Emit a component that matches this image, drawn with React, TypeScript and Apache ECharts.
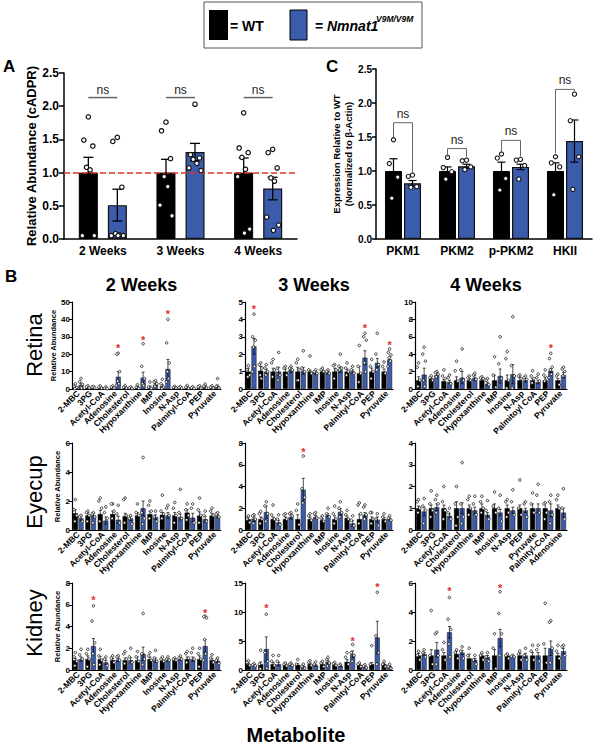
import React, { useEffect, useRef } from 'react';
import * as echarts from 'echarts';

const BLUE = '#3b5bab';
const RED = '#e0302a';
const FONT = 'Liberation Sans, Arial, sans-serif';

// ---------- Panel A ----------
const A_CATS = ['2 Weeks', '3 Weeks', '4 Weeks'];
const A_WT = [1.0, 1.0, 1.0];
const A_WT_SEM = [0.23, 0.2, 0.22];
const A_KO = [0.51, 1.31, 0.76];
const A_KO_SEM = [0.24, 0.13, 0.17];
const A_WT_PTS = [
  [1.84, 1.49, 1.4, 1.08, 1.04, 0.05, 0.05],
  [1.76, 1.63, 1.21, 0.94, 0.79, 0.51, 0.35],
  [1.9, 1.37, 1.3, 1.23, 1.05, 0.94, 0.15, 0.09],
];
const A_KO_PTS = [
  [1.53, 1.47, 0.78, 0.08, 0.06, 0.05, 0.05, 0.05],
  [2.03, 1.27, 1.22, 1.2, 1.14, 1.07, 1.03],
  [1.35, 1.3, 1.07, 0.92, 0.87, 0.33, 0.21, 0.13],
];
const A_NS = [2.13, 2.13, 2.13];
const A_REF = 1.0;

// ---------- Panel C ----------
const C_CATS = ['PKM1', 'PKM2', 'p-PKM2', 'HKII'];
const C_WT = [1.0, 1.0, 1.0, 1.0];
const C_WT_SEM = [0.18, 0.06, 0.13, 0.12];
const C_KO = [0.82, 1.07, 1.06, 1.44];
const C_KO_SEM = [0.04, 0.03, 0.04, 0.31];
const C_WT_PTS = [
  [1.46, 1.11, 0.91, 0.6],
  [1.2, 1.05, 0.99, 0.88],
  [1.25, 1.19, 0.89, 0.72],
  [1.21, 1.12, 1.06, 0.65],
];
const C_KO_PTS = [
  [0.94, 0.92, 0.77, 0.76],
  [1.16, 1.15, 1.06, 1.02],
  [1.17, 1.16, 1.08, 0.88],
  [2.13, 1.74, 1.21, 0.73],
];
const C_BR_TOP = [1.71, 1.33, 1.45, 2.2];
const C_BR_LEFT = [1.5, 1.21, 1.26, 1.26];
const C_BR_RIGHT = [0.97, 1.21, 1.21, 2.17];

// ---------- Panel B ----------
const CATS_STD = ['2-MBC', '3PG', 'Acetyl-CoA', 'Adenosine', 'Cholesterol', 'Hypoxanthine', 'IMP', 'Inosine', 'N-Asp', 'Palmityl-CoA', 'PEP', 'Pyruvate'];
const CATS_RET4 = ['2-MBC', '3PG', 'Acetyl-CoA', 'Adenosine', 'Cholesterol', 'Hypoxanthine', 'IMP', 'Inosine', 'N-Asp', 'Palmitoyl CoA', 'PEP', 'Pyruvate'];
const CATS_EYE4 = ['2-MBC', '3PG', 'Acetyl-CoA', 'Cholesterol', 'Hypoxanthine', 'IMP', 'Inosine', 'N-Asp', 'PEP', 'Pyruvate', 'Palmityl-CoA', 'Adenosine'];
const B_COLS = ['2 Weeks', '3 Weeks', '4 Weeks'];
const B_ROWS = ['Retina', 'Eyecup', 'Kidney'];
const B_YMAX = [50, 5, 10, 6, 8, 4, 8, 15, 6];
const B_YSTEP = [10, 1, 2, 2, 2, 1, 2, 5, 2];

// Retina 2 weeks
const RET2_WT = [1, 1, 1, 1, 1, 1, 1, 1.5, 1, 1, 1, 1];
const RET2_WT_SEM = [0.6, 0.2, 0.3, 0.3, 0.3, 0.4, 0.8, 1.0, 0.2, 0.3, 0.3, 0.3];
const RET2_KO = [2.3, 0.9, 0.6, 7.0, 0.6, 6.5, 2.5, 11.5, 0.8, 0.7, 1.3, 1.5];
const RET2_KO_SEM = [0.9, 0.15, 0.2, 3.0, 0.2, 3.2, 0.8, 5.5, 0.2, 0.2, 0.5, 0.8];
const RET2_WT_PTS = [[3.0, 1.5, 0.8, 0.2], [1.9, 1.2, 0.6], [1.8, 1.1, 0.5], [1.8, 1.2, 0.5], [2.0, 1.0, 0.5], [2.5, 1.0, 0.4], [4.0, 1.0, 0.3], [5.5, 3.0, 1.0, 0.3], [1.5, 1.0, 0.6], [2.0, 1.0, 0.4], [1.8, 1.2, 0.5], [1.8, 1.0, 0.5]];
const RET2_KO_PTS = [[6.0, 4.2, 2.8, 1.0, 0.5], [1.5, 1.0, 0.6], [1.2, 0.5, 0.2], [20.5, 20, 10, 4.5, 3, 2], [1.2, 0.6, 0.3], [26, 13, 6, 3, 2], [4.8, 4.0, 3.0, 1.5], [40, 26.5, 15, 10, 6, 4], [1.4, 0.8, 0.5], [1.3, 0.7, 0.3], [2.8, 1.6, 0.7], [6.0, 1.5, 0.6]];
const RET2_STARS = [[3, 24.5], [5, 29.5], [7, 44]];

// Retina 3 weeks
const RET3_WT = [1.0, 1.05, 1.0, 1.0, 1.0, 1.0, 1.0, 1.0, 1.0, 0.9, 1.0, 1.0];
const RET3_WT_SEM = [0.2, 0.25, 0.2, 0.15, 0.25, 0.1, 0.1, 0.2, 0.15, 0.4, 0.2, 0.15];
const RET3_KO = [2.45, 1.0, 1.0, 1.1, 1.05, 0.95, 0.95, 1.1, 1.0, 1.8, 1.5, 1.7];
const RET3_KO_SEM = [0.45, 0.15, 0.25, 0.15, 0.2, 0.1, 0.08, 0.15, 0.1, 0.4, 0.25, 0.12];
const RET3_WT_PTS = [[1.35, 1.1, 0.8, 0.7], [1.5, 1.4, 1.2, 0.8, 0.6], [1.7, 1.5, 1.1, 0.7], [1.3, 1.2, 0.8], [1.7, 1.5, 1.1, 0.5, 0.5], [1.9, 1.1, 0.9], [1.2, 1.1, 1.0], [1.4, 1.35, 1.1, 0.6], [1.5, 1.2, 1.0, 0.8], [2.5, 1.3, 0.9, 0.4], [1.7, 1.3, 1.0, 0.6], [1.55, 1.3, 0.9]];
const RET3_KO_PTS = [[4.3, 3.0, 2.8, 2.4, 1.3, 1.0], [1.4, 1.2, 1.0, 0.8], [2.1, 1.2, 0.8, 0.5], [1.3, 1.2, 1.1], [2.2, 1.2, 1.0], [1.1, 1.0, 0.9], [1.1, 1.0, 0.9], [2.0, 1.3, 1.2, 1.1], [1.3, 1.1, 0.9], [3.2, 3.0, 2.8, 1.5, 1.0], [3.2, 2.0, 1.4, 1.1], [2.3, 2.1, 1.95, 1.8, 1.6, 1.3]];
const RET3_STARS = [[0, 4.7], [9, 3.6], [11, 2.65]];

// Retina 4 weeks
const RET4_WT = [1.0, 1.2, 0.9, 1.0, 1.0, 1.0, 1.0, 1.0, 1.0, 1.0, 1.0, 1.0];
const RET4_WT_SEM = [0.4, 0.2, 0.2, 0.4, 0.2, 0.15, 0.6, 0.6, 0.3, 0.2, 0.3, 0.2];
const RET4_KO = [1.65, 1.6, 0.8, 1.3, 1.3, 0.6, 1.5, 1.7, 1.0, 0.8, 2.1, 1.6];
const RET4_KO_SEM = [0.75, 0.3, 0.2, 0.7, 0.3, 0.2, 0.8, 1.1, 0.2, 0.2, 0.2, 0.3];
const RET4_WT_PTS = [[3.0, 2.5, 1.0, 0.3], [1.5, 1.3, 1.0], [2.2, 1.5, 1.2], [3.2, 2.1, 0.9], [1.5, 1.3, 1.0], [1.4, 1.3, 1.2], [3.7, 1.6, 0.2], [4.3, 3.5, 1.0, 0.1], [1.6, 1.5, 1.2], [2.1, 1.5, 1.2, 0.7], [2.2, 1.6, 1.3, 0.9], [1.7, 1.5, 0.5]];
const RET4_KO_PTS = [[4.8, 4.0, 3.2, 1.0, 0.3], [2.0, 1.9, 1.7, 1.4], [1.6, 1.3, 0.6], [4.6, 2.2, 1.0], [1.8, 1.6, 1.1], [1.2, 1.0, 0.5], [6.0, 2.9, 1.2], [8.3, 2.7, 1.5, 0.1], [1.5, 1.3, 1.1], [1.7, 1.3, 0.9], [4.1, 3.5, 2.5, 2.2, 1.7, 1.3], [2.5, 2.3, 2.0, 1.5]];
const RET4_STARS = [[10, 5.0]];

// Eyecup 2 weeks
const EYE2_WT = [1.15, 1.0, 1.1, 1.1, 0.95, 1.0, 1.1, 1.05, 1.0, 1.2, 1.0, 1.0];
const EYE2_WT_SEM = [0.25, 0.2, 0.25, 0.2, 0.2, 0.2, 0.2, 0.15, 0.2, 0.2, 0.25, 0.15];
const EYE2_KO = [0.8, 1.0, 0.65, 0.7, 0.8, 1.5, 0.9, 1.0, 0.9, 0.85, 0.75, 0.95];
const EYE2_KO_SEM = [0.15, 0.15, 0.25, 0.25, 0.15, 0.5, 0.15, 0.2, 0.2, 0.3, 0.2, 0.1];
const EYE2_WT_PTS = [[2.1, 1.4, 1.0, 0.6], [1.3, 1.2, 1.0, 0.6], [2.2, 2.0, 1.5, 0.6], [1.8, 1.8, 1.3, 0.8], [2.2, 2.1, 1.0, 0.5], [1.8, 1.2, 1.0], [2.0, 1.7, 1.3, 0.8], [2.4, 1.3, 1.1, 0.8], [1.9, 1.5, 1.0, 0.5], [1.8, 1.4, 1.0, 0.7], [2.2, 1.4, 1.0, 0.5], [1.5, 1.3, 1.0]];
const EYE2_KO_PTS = [[1.0, 0.9, 0.6], [1.2, 1.1, 0.9, 0.5], [1.6, 1.2, 0.8], [1.7, 1.1, 0.5], [1.0, 0.8, 0.4], [5.0, 1.2, 0.8, 0.4], [1.3, 0.9, 0.6], [1.7, 1.5, 1.0], [2.8, 1.2, 0.8], [1.8, 1.5, 0.5], [1.3, 1.0, 0.6], [1.2, 1.1, 0.9]];
const EYE2_STARS: number[][] = [];

// Eyecup 3 weeks
const EYE3_WT = [1, 1, 1, 1, 1, 1, 0.9, 1, 1.1, 1, 1, 1];
const EYE3_WT_SEM = [0.2, 0.2, 0.2, 0.2, 0.4, 0.2, 0.15, 0.3, 0.2, 0.4, 0.2, 0.15];
const EYE3_KO = [1.05, 1.65, 0.7, 1.2, 3.7, 1.2, 1.35, 1.65, 0.6, 1.4, 0.95, 1.0];
const EYE3_KO_SEM = [0.25, 0.55, 0.2, 0.2, 1.05, 0.15, 0.15, 0.3, 0.25, 0.2, 0.25, 0.1];
const EYE3_WT_PTS = [[1.3, 1.0, 0.7], [1.7, 1.5, 1.0, 0.6], [2.3, 1.4, 1.0], [1.5, 1.4, 1.0], [2.4, 1.8, 0.5], [1.5, 1.3, 0.9], [1.3, 1.1, 0.8], [2.2, 1.5, 1.0, 0.6], [1.8, 1.4, 1.0], [2.5, 2.3, 1.5, 0.6], [1.6, 1.6, 1.0, 0.6], [1.5, 1.2, 0.8]];
const EYE3_KO_PTS = [[1.4, 1.3, 1.0, 0.6], [2.6, 2.2, 1.5, 0.8], [1.4, 1.0, 0.5], [1.6, 1.5, 1.3], [6.8, 3.8, 3.0, 2.5], [1.6, 1.5, 1.1], [2.0, 1.5, 1.2], [2.6, 2.0, 1.6, 1.2], [1.3, 0.9, 0.4], [2.3, 2.1, 1.4, 1.0], [1.5, 1.0, 0.4], [1.3, 1.1, 0.9]];
const EYE3_STARS = [[4, 7.4]];

// Eyecup 4 weeks
const EYE4_WT = [1, 1, 1, 1, 1, 1, 1, 1, 1, 1, 1, 1];
const EYE4_WT_SEM = [0.1, 0.15, 0.15, 0.3, 0.15, 0.2, 0.2, 0.15, 0.15, 0.2, 0.25, 0.15];
const EYE4_KO = [0.85, 1.05, 0.65, 1.0, 0.9, 0.7, 0.8, 0.9, 0.9, 1.0, 0.9, 0.8];
const EYE4_KO_SEM = [0.2, 0.15, 0.1, 0.25, 0.15, 0.1, 0.15, 0.15, 0.1, 0.2, 0.3, 0.2];
const EYE4_WT_PTS = [[1.4, 1.3, 1.0, 0.8], [1.8, 1.2, 0.9, 0.6], [2.0, 1.3, 0.9, 0.5], [2.0, 1.2, 0.6, 0.2], [1.55, 1.4, 1.0, 0.7], [1.55, 1.3, 1.0, 0.8], [1.75, 1.1, 0.8], [1.4, 1.3, 0.8, 0.6], [2.3, 1.0, 0.7], [1.7, 1.2, 0.8], [1.25, 1.2, 0.8, 0.5], [1.6, 1.4, 1.0]];
const EYE4_KO_PTS = [[1.45, 1.1, 0.9, 0.3], [1.6, 1.4, 1.2, 0.8], [1.0, 0.8, 0.5], [3.1, 1.2, 0.6, 0.3], [1.55, 1.2, 0.7], [1.35, 0.9, 0.5], [1.6, 1.0, 0.4], [1.85, 1.3, 0.7], [1.3, 1.2, 0.6], [2.1, 1.6, 0.8], [1.6, 1.3, 0.7, 0.3], [1.9, 1.0, 0.5]];
const EYE4_STARS: number[][] = [];

// Kidney 2 weeks
const KID2_WT = [0.9, 1.0, 1.0, 0.9, 0.9, 0.9, 1.0, 0.85, 0.9, 1.0, 1.0, 0.9];
const KID2_WT_SEM = [0.2, 0.3, 0.25, 0.15, 0.2, 0.3, 0.2, 0.1, 0.1, 0.2, 0.3, 0.15];
const KID2_KO = [1.0, 2.2, 0.7, 0.95, 0.9, 1.5, 0.9, 0.9, 1.0, 1.0, 2.2, 0.85];
const KID2_KO_SEM = [0.2, 0.7, 0.2, 0.15, 0.25, 0.6, 0.2, 0.1, 0.1, 0.2, 0.6, 0.15];
const KID2_WT_PTS = [[1.6, 1.2, 0.8, 0.4], [1.9, 1.5, 1.0, 0.3], [1.9, 1.3, 0.9, 0.5], [1.3, 1.1, 0.7], [1.7, 1.5, 1.0, 0.6], [1.7, 1.2, 0.8], [1.6, 1.3, 0.9], [1.2, 1.0, 0.8], [1.1, 1.0, 0.9], [1.7, 1.5, 1.1, 0.7], [2.0, 1.5, 1.0, 0.3], [1.4, 1.1, 0.7]];
const KID2_KO_PTS = [[1.9, 1.4, 1.0], [5.9, 4.5, 2.5, 1.5, 0.5], [1.2, 1.0, 0.4], [1.3, 1.2, 0.9], [2.0, 1.2, 0.7], [5.2, 1.5, 1.0, 0.5], [1.8, 1.1, 0.8], [1.2, 1.0, 0.9], [1.3, 1.1, 1.0], [2.0, 1.6, 1.0], [4.95, 4.9, 4.8, 2.8, 1.5, 0.9], [1.1, 0.9, 0.6]];
const KID2_STARS = [[1, 6.6], [10, 5.4]];

// Kidney 3 weeks
const KID3_WT = [1.0, 1.0, 1.0, 0.9, 0.9, 1.0, 1.0, 0.9, 1.4, 0.9, 1.0, 1.0];
const KID3_WT_SEM = [0.2, 0.4, 0.3, 0.1, 0.2, 0.2, 0.2, 0.1, 0.4, 0.1, 0.3, 0.2];
const KID3_KO = [0.9, 3.6, 1.0, 0.9, 0.6, 0.8, 1.4, 0.7, 2.7, 0.6, 5.6, 0.6];
const KID3_KO_SEM = [0.1, 2.1, 0.3, 0.1, 0.1, 0.15, 0.3, 0.1, 0.6, 0.1, 2.8, 0.1];
const KID3_WT_PTS = [[1.6, 1.3, 0.8, 0.5], [3.4, 1.0, 0.5, 0.2], [2.5, 1.5, 0.8], [1.2, 1.0, 0.7], [1.8, 1.0, 0.5], [1.6, 1.3, 0.8], [1.5, 1.2, 0.6], [1.3, 1.1, 0.8], [3.0, 2.2, 1.0, 0.5], [1.2, 1.0, 0.6], [4.2, 1.0, 0.5], [1.5, 1.0, 0.6]];
const KID3_KO_PTS = [[1.1, 0.9, 0.7], [9.6, 3.0, 1.5, 0.5, 0.3], [2.5, 1.5, 0.5], [1.2, 1.0, 0.8], [1.0, 0.6, 0.3], [1.4, 1.0, 0.5], [2.2, 1.8, 1.2, 0.7], [1.0, 0.8, 0.5], [4.4, 3.0, 2.5, 1.5], [0.9, 0.7, 0.4], [13.4, 5.9, 3.0, 1.0], [1.0, 0.6, 0.3]];
const KID3_STARS = [[1, 11.0], [8, 5.3], [10, 14.7]];

// Kidney 4 weeks
const KID4_WT = [1.0, 1.0, 1.0, 1.1, 0.8, 1.0, 1.0, 1.0, 1.0, 1.0, 1.0, 1.0];
const KID4_WT_SEM = [0.15, 0.4, 0.2, 0.2, 0.3, 0.15, 0.4, 0.1, 0.15, 0.2, 0.5, 0.15];
const KID4_KO = [1.1, 1.4, 2.6, 1.2, 0.7, 0.9, 2.2, 0.95, 1.0, 1.0, 1.5, 1.3];
const KID4_KO_SEM = [0.1, 0.5, 0.4, 0.15, 0.1, 0.1, 0.6, 0.05, 0.15, 0.2, 0.5, 0.2];
const KID4_WT_PTS = [[1.3, 1.0, 0.7], [4.1, 1.0, 0.4, 0.2], [1.9, 1.4, 0.7], [1.4, 1.2, 0.8], [1.5, 1.0, 0.2], [1.2, 1.0, 0.7], [2.5, 1.5, 0.1], [1.1, 1.0, 0.8], [1.3, 1.1, 0.7], [1.7, 1.3, 0.7], [4.6, 1.8, 0.5, 0.2], [1.7, 1.3, 0.8]];
const KID4_KO_PTS = [[1.4, 1.2, 0.9], [2.6, 2.5, 1.0, 0.4], [5.0, 3.5, 2.8, 1.8, 0.9], [1.6, 1.3, 0.8], [1.0, 0.7, 0.4], [1.2, 0.9, 0.6], [5.4, 3.9, 2.5, 1.0, 0.2], [1.0, 0.95, 0.9], [1.5, 1.0, 0.7], [1.7, 1.4, 0.6], [3.4, 3.3, 1.5, 0.5], [1.7, 1.6, 1.0]];
const KID4_STARS = [[2, 5.6], [6, 5.8]];

const PANELS = [
  { cats: CATS_STD, wt: RET2_WT, wtSem: RET2_WT_SEM, ko: RET2_KO, koSem: RET2_KO_SEM, wtPts: RET2_WT_PTS, koPts: RET2_KO_PTS, stars: RET2_STARS },
  { cats: CATS_STD, wt: RET3_WT, wtSem: RET3_WT_SEM, ko: RET3_KO, koSem: RET3_KO_SEM, wtPts: RET3_WT_PTS, koPts: RET3_KO_PTS, stars: RET3_STARS },
  { cats: CATS_RET4, wt: RET4_WT, wtSem: RET4_WT_SEM, ko: RET4_KO, koSem: RET4_KO_SEM, wtPts: RET4_WT_PTS, koPts: RET4_KO_PTS, stars: RET4_STARS },
  { cats: CATS_STD, wt: EYE2_WT, wtSem: EYE2_WT_SEM, ko: EYE2_KO, koSem: EYE2_KO_SEM, wtPts: EYE2_WT_PTS, koPts: EYE2_KO_PTS, stars: EYE2_STARS },
  { cats: CATS_STD, wt: EYE3_WT, wtSem: EYE3_WT_SEM, ko: EYE3_KO, koSem: EYE3_KO_SEM, wtPts: EYE3_WT_PTS, koPts: EYE3_KO_PTS, stars: EYE3_STARS },
  { cats: CATS_EYE4, wt: EYE4_WT, wtSem: EYE4_WT_SEM, ko: EYE4_KO, koSem: EYE4_KO_SEM, wtPts: EYE4_WT_PTS, koPts: EYE4_KO_PTS, stars: EYE4_STARS },
  { cats: CATS_STD, wt: KID2_WT, wtSem: KID2_WT_SEM, ko: KID2_KO, koSem: KID2_KO_SEM, wtPts: KID2_WT_PTS, koPts: KID2_KO_PTS, stars: KID2_STARS },
  { cats: CATS_STD, wt: KID3_WT, wtSem: KID3_WT_SEM, ko: KID3_KO, koSem: KID3_KO_SEM, wtPts: KID3_WT_PTS, koPts: KID3_KO_PTS, stars: KID3_STARS },
  { cats: CATS_STD, wt: KID4_WT, wtSem: KID4_WT_SEM, ko: KID4_KO, koSem: KID4_KO_SEM, wtPts: KID4_WT_PTS, koPts: KID4_KO_PTS, stars: KID4_STARS },
];

// layout (styles, not data)
const COL_X = [72, 245, 415];
const COL_W = [149, 148, 152];
const ROW_Y = [302, 443, 583];
const ROW_H = 87;
const ROW_LABEL_Y = [345, 492, 623];
const JIT = [0, -0.3, 0.3, -0.12, 0.12, -0.4, 0.4, 0.05];

type Cfg = { off: number; bw: number; cap: number; r: number; lw: number; dlw: number; star: number; nsSize: number };

function makeRender(cfg: Cfg) {
  return (params: any, api: any) => {
    const cat = api.value(0);
    const v = api.value(1);
    const kind = api.value(2);
    const p = api.coord([cat, v]);
    const cx = p[0];
    const ls = { stroke: '#000', lineWidth: cfg.lw };
    if (kind === 0) {
      const g = api.value(3);
      const sem = api.value(5);
      const x = cx + (g === 0 ? -cfg.off : cfg.off);
      const yt = api.coord([cat, v + sem])[1];
      const yb = api.coord([cat, Math.max(0, v - sem)])[1];
      return {
        type: 'group',
        children: [
          { type: 'line', shape: { x1: x, y1: yt, x2: x, y2: yb }, style: ls },
          { type: 'line', shape: { x1: x - cfg.cap, y1: yt, x2: x + cfg.cap, y2: yt }, style: ls },
          { type: 'line', shape: { x1: x - cfg.cap, y1: yb, x2: x + cfg.cap, y2: yb }, style: ls },
        ],
      };
    }
    if (kind === 1) {
      const g = api.value(3);
      const k = api.value(4);
      const x = cx + (g === 0 ? -cfg.off : cfg.off) + JIT[k % JIT.length] * cfg.bw;
      return {
        type: 'circle',
        shape: { cx: x, cy: p[1], r: cfg.r },
        style: { fill: '#fff', stroke: '#111', lineWidth: cfg.dlw },
      };
    }
    if (kind === 2) {
      return {
        type: 'text',
        x: cx + cfg.off,
        y: p[1] + 2,
        style: {
          text: '*', fill: RED, fontSize: cfg.star, fontWeight: 'bold', fontFamily: FONT,
          textAlign: 'center', textVerticalAlign: 'middle', align: 'center', verticalAlign: 'middle',
        },
      };
    }
    if (kind === 3) {
      return {
        type: 'group',
        children: [
          { type: 'line', shape: { x1: cx - cfg.off, y1: p[1], x2: cx + cfg.off, y2: p[1] }, style: { stroke: '#666', lineWidth: 1.5 } },
          {
            type: 'text', x: cx, y: p[1] - 8,
            style: { text: 'ns', fill: '#222', fontSize: cfg.nsSize, fontFamily: FONT, textAlign: 'center', textVerticalAlign: 'middle', align: 'center', verticalAlign: 'middle' },
          },
        ],
      };
    }
    // kind 4: bracket
    const yl = api.coord([cat, api.value(3)])[1];
    const yr = api.coord([cat, api.value(4)])[1];
    return {
      type: 'group',
      children: [
        {
          type: 'polyline',
          shape: { points: [[cx - cfg.off, yl], [cx - cfg.off, p[1]], [cx + cfg.off, p[1]], [cx + cfg.off, yr]] },
          style: { stroke: '#666', lineWidth: 1, fill: 'none' },
        },
        {
          type: 'text', x: cx, y: p[1] - 9,
          style: { text: 'ns', fill: '#222', fontSize: cfg.nsSize, fontFamily: FONT, textAlign: 'center', textVerticalAlign: 'middle', align: 'center', verticalAlign: 'middle' },
        },
      ],
    };
  };
}

function customData(wt: number[], wtSem: number[], ko: number[], koSem: number[], wtPts: number[][], koPts: number[][], stars: number[][]) {
  const d: number[][] = [];
  wt.forEach((v, i) => d.push([i, v, 0, 0, 0, wtSem[i]]));
  ko.forEach((v, i) => d.push([i, v, 0, 1, 0, koSem[i]]));
  wtPts.forEach((arr, i) => arr.forEach((v, k) => d.push([i, v, 1, 0, k, 0])));
  koPts.forEach((arr, i) => arr.forEach((v, k) => d.push([i, v, 1, 1, k, 0])));
  stars.forEach((s) => d.push([s[0], s[1], 2, 1, 0, 0]));
  return d;
}

function buildOption() {
  const grid: any[] = [];
  const xAxis: any[] = [];
  const yAxis: any[] = [];
  const series: any[] = [];

  const bold = { fontWeight: 'bold', color: '#000', fontFamily: FONT };

  // Panel A
  grid.push({ left: 64, top: 73, width: 233, height: 166 });
  xAxis.push({
    gridIndex: 0, type: 'category', data: A_CATS,
    axisLine: { lineStyle: { color: '#000', width: 1.5 } }, axisTick: { show: false },
    axisLabel: { ...bold, fontSize: 12, margin: 6, interval: 0 },
  });
  yAxis.push({
    gridIndex: 0, type: 'value', min: 0, max: 2.5, interval: 0.5,
    axisLine: { show: true, lineStyle: { color: '#000', width: 1.5 } },
    axisTick: { show: true, length: 5, lineStyle: { width: 1.5 } }, splitLine: { show: false },
    axisLabel: { ...bold, fontSize: 12, margin: 5, formatter: (v: number) => v.toFixed(1) },
    name: 'Relative Abundance (cADPR)', nameLocation: 'middle', nameGap: 26,
    nameTextStyle: { ...bold, fontSize: 13 },
  });
  series.push({
    type: 'bar', xAxisIndex: 0, yAxisIndex: 0, data: A_WT, barWidth: 19, barGap: '53%',
    itemStyle: { color: '#000', borderColor: '#000', borderWidth: 1 },
  });
  series.push({
    type: 'bar', xAxisIndex: 0, yAxisIndex: 0, data: A_KO, barWidth: 19, barGap: '53%',
    itemStyle: { color: BLUE, borderColor: '#111', borderWidth: 1.2 },
    markLine: {
      silent: true, symbol: 'none', label: { show: false },
      lineStyle: { color: RED, type: 'dashed', width: 1.5 }, data: [{ yAxis: A_REF }],
    },
  });
  const aData = customData(A_WT, A_WT_SEM, A_KO, A_KO_SEM, A_WT_PTS, A_KO_PTS, []);
  A_NS.forEach((v, i) => aData.push([i, v, 3, 0, 0, 0]));
  series.push({
    type: 'custom', xAxisIndex: 0, yAxisIndex: 0, z: 5, data: aData,
    renderItem: makeRender({ off: 14.5, bw: 15, cap: 5, r: 2.2, lw: 1.3, dlw: 1.2, star: 12, nsSize: 12 }),
  });

  // Panel C
  grid.push({ left: 376, top: 69, width: 216, height: 170 });
  xAxis.push({
    gridIndex: 1, type: 'category', data: C_CATS,
    axisLine: { lineStyle: { color: '#000', width: 1.5 } }, axisTick: { show: false },
    axisLabel: { ...bold, fontSize: 12, margin: 6, interval: 0 },
  });
  yAxis.push({
    gridIndex: 1, type: 'value', min: 0, max: 2.5, interval: 0.5,
    axisLine: { show: true, lineStyle: { color: '#000', width: 1.5 } },
    axisTick: { show: true, length: 4, lineStyle: { width: 1.5 } }, splitLine: { show: false },
    axisLabel: { ...bold, fontSize: 10, margin: 4, formatter: (v: number) => v.toFixed(1) },
    name: 'Expression Relative to WT\n(Normalized to β-Actin)', nameLocation: 'middle', nameGap: 21,
    nameTextStyle: { ...bold, fontSize: 9.5, lineHeight: 12 },
  });
  series.push({
    type: 'bar', xAxisIndex: 1, yAxisIndex: 1, data: C_WT, barWidth: 17, barGap: '12%',
    itemStyle: { color: '#000', borderColor: '#000', borderWidth: 1 },
  });
  series.push({
    type: 'bar', xAxisIndex: 1, yAxisIndex: 1, data: C_KO, barWidth: 17, barGap: '12%',
    itemStyle: { color: BLUE, borderColor: '#111', borderWidth: 1.2 },
  });
  const cData = customData(C_WT, C_WT_SEM, C_KO, C_KO_SEM, C_WT_PTS, C_KO_PTS, []);
  C_BR_TOP.forEach((v, i) => cData.push([i, v, 4, C_BR_LEFT[i], C_BR_RIGHT[i], 0]));
  series.push({
    type: 'custom', xAxisIndex: 1, yAxisIndex: 1, z: 5, data: cData,
    renderItem: makeRender({ off: 9.5, bw: 14, cap: 4, r: 2.1, lw: 1.2, dlw: 1.1, star: 12, nsSize: 12 }),
  });

  // Panel B
  PANELS.forEach((pn, p) => {
    const row = Math.floor(p / 3);
    const col = p % 3;
    const gi = 2 + p;
    grid.push({ left: COL_X[col], top: ROW_Y[row], width: COL_W[col], height: ROW_H });
    xAxis.push({
      gridIndex: gi, type: 'category', data: pn.cats,
      axisLine: { lineStyle: { color: '#000', width: 1.2 } }, axisTick: { show: false },
      axisLabel: { ...bold, fontSize: 8.5, rotate: 45, interval: 0, margin: 3 },
    });
    yAxis.push({
      gridIndex: gi, type: 'value', min: 0, max: B_YMAX[p], interval: B_YSTEP[p],
      axisLine: { show: true, lineStyle: { color: '#000', width: 1.2 } },
      axisTick: { show: true, length: 3, lineStyle: { width: 1 } }, splitLine: { show: false },
      axisLabel: { ...bold, fontSize: 8, margin: 2 },
      name: col === 0 ? 'Relative Abundance' : '', nameLocation: 'middle', nameGap: 11,
      nameTextStyle: { ...bold, fontSize: 7.5 },
    });
    series.push({
      type: 'bar', xAxisIndex: gi, yAxisIndex: gi, data: pn.wt, barWidth: 5, barGap: '12%',
      itemStyle: { color: '#000', borderColor: '#000', borderWidth: 0.4 },
    });
    series.push({
      type: 'bar', xAxisIndex: gi, yAxisIndex: gi, data: pn.ko, barWidth: 5, barGap: '12%',
      itemStyle: { color: BLUE, borderColor: '#111', borderWidth: 0.5 },
    });
    series.push({
      type: 'custom', xAxisIndex: gi, yAxisIndex: gi, z: 5,
      data: customData(pn.wt, pn.wtSem, pn.ko, pn.koSem, pn.wtPts, pn.koPts, pn.stars),
      renderItem: makeRender({ off: 2.8, bw: 4.5, cap: 1.5, r: 1.3, lw: 0.7, dlw: 0.8, star: 11, nsSize: 8 }),
    });
  });

  const txt = (text: string, x: number, y: number, size: number, extra: any = {}) => ({
    type: 'text', x, y, rotation: extra.rotation || 0,
    style: {
      text, fill: '#000', fontSize: size, fontWeight: extra.weight || 'bold', fontStyle: extra.style || 'normal',
      fontFamily: FONT, textAlign: extra.align || 'center', textVerticalAlign: 'middle',
      align: extra.align || 'center', verticalAlign: 'middle',
    },
  });

  const graphic: any[] = [
    { type: 'rect', shape: { x: 204, y: 2, width: 218, height: 46 }, style: { fill: '#fff', stroke: '#555', lineWidth: 1 } },
    { type: 'rect', shape: { x: 209, y: 10, width: 19, height: 30 }, style: { fill: '#000' } },
    { type: 'rect', shape: { x: 290, y: 10, width: 17, height: 30 }, style: { fill: BLUE, stroke: '#000', lineWidth: 1 } },
    txt('= WT', 230, 26, 14, { align: 'left' }),
    txt('=', 315, 26, 14, { align: 'left' }),
    txt('Nmnat1', 327, 26, 14, { align: 'left', style: 'italic' }),
    txt('V9M/V9M', 376, 19, 8.5, { align: 'left', style: 'italic' }),
    txt('A', 3, 66, 17, { align: 'left' }),
    txt('C', 326, 66, 17, { align: 'left' }),
    txt('B', 5, 276, 17, { align: 'left' }),
    txt('Metabolite', 296, 735, 20),
  ];
  B_COLS.forEach((t, c) => graphic.push(txt(t, COL_X[c] + COL_W[c] / 2 - 5, 285, 18)));
  B_ROWS.forEach((t, r) => graphic.push(txt(t, 34, ROW_LABEL_Y[r], 22, { weight: 'normal', rotation: Math.PI / 2 })));

  return {
    animation: false,
    textStyle: { fontFamily: FONT },
    grid, xAxis, yAxis, series, graphic,
  };
}

export default function App() {
  const ref = useRef<HTMLDivElement>(null);
  useEffect(() => {
    document.body.style.margin = '0';
    const chart = echarts.init(ref.current!, null, { renderer: 'svg' });
    chart.setOption(buildOption() as any);
    return () => chart.dispose();
  }, []);
  return <div ref={ref} style={{ width: 616, height: 750, background: '#fff' }} />;
}
